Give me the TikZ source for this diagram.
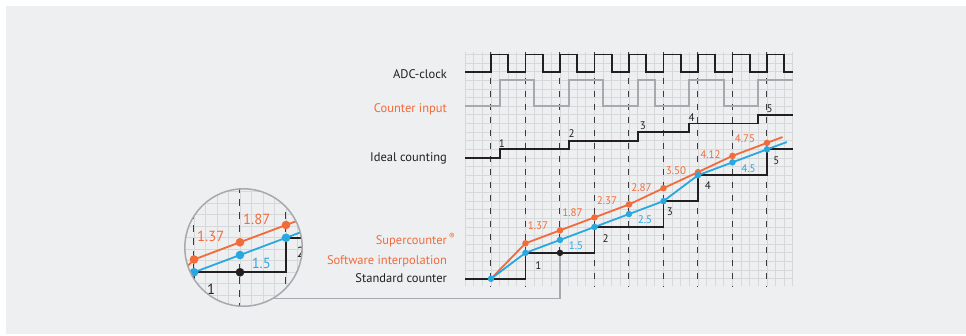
\documentclass[tikz,border=0pt]{standalone}
\usepackage{fontspec}
\setmainfont{PT Sans}
\usetikzlibrary{positioning}

\definecolor{panelcol}{HTML}{EEEFF1}
\definecolor{gridcol}{HTML}{D7D8DA}
\definecolor{supercol}{HTML}{F26B3A}
\definecolor{softcol}{HTML}{29A8E0}
\definecolor{inkcol}{HTML}{231F20}
\definecolor{inputcol}{HTML}{A7A9AC}
\definecolor{tickcol}{HTML}{3A3A3A}

\tikzset{
  grid line/.style = {gridcol, line width=0.8pt},
  tick line/.style = {tickcol, line width=1pt, dash pattern=on 6.5pt off 6.5pt},
  trace/.style = {line width=1.8pt},
  clk line/.style = {trace, inkcol},
  in line/.style = {trace, inputcol},
  ideal line/.style = {trace, inkcol},
  std line/.style = {trace, inkcol},
  super line/.style = {trace, supercol},
  soft line/.style = {trace, softcol},
  dot/.style = {circle, inner sep=0pt, minimum size=6.5pt, fill=#1},
  sig name/.style = {font=\fontsize{12.5}{14}\selectfont, inner sep=0pt, text=#1},
  num/.style = {font=\fontsize{11}{12}\selectfont, inner sep=0pt, text=#1},
  lens/.style = {circle, draw=inputcol, line width=1.5pt, minimum size=117.4pt, inner sep=0pt},
  link/.style = {inputcol, line width=1.6pt},
}

% grid with the three counters, drawn twice (plain and in the lens)
% #1 steps of the standard counter, #2 supercounter values, #3 interpolated values to print
\newcommand{\countplot}[3]{%
  \foreach \i in {0,...,38} \draw[grid line] (\i,-0.3) -- (\i,26.85);
  \foreach \j in {0,...,26} \draw[grid line] (0,\j) -- (38,\j);
  \foreach \k in {0,...,8} \draw[tick line] ({3+4*\k},-0.3) -- ({3+4*\k},26.85);
  % standard counter
  \draw[std line] (0,26) coordinate (sc-start) -- (7,26) -- (7,23) -- (15,23) -- (15,20)
    -- (23,20) -- (23,17) -- (27,17) -- (27,14) -- (35,14) -- (35,11) -- (38,11);
  \foreach \n/\x/\y in {#1}
    \node[num=inkcol] (sc-\n) at (\x,\y) {\n};
  % supercounter
  \draw[super line] (3,26) \foreach \k/\v in {1/1.37,2/1.87,3/2.37,4/2.87,5/3.50,6/4.12,7/4.75,8/5.25}
    { -- ({3+4*\k},{26-3*\v}) } -- (36.8,9.57);
  % software interpolation
  \draw[soft line] (3,26) \foreach \k/\v in {1/1,2/1.5,3/2,4/2.5,5/3,6/4,7/4.5,8/5}
    { -- ({3+4*\k},{26-3*\v}) } -- (37.3,10.15);
  \foreach \k/\v in {1/1.37,2/1.87,3/2.37,4/2.87,5/3.50,6/4.12,7/4.75,8/5.25}
    \node[dot=supercol] (sp-\k) at ({3+4*\k},{26-3*\v}) {};
  \foreach \k/\v in {0/0,1/1,2/1.5,3/2,4/2.5,5/3,6/4,7/4.5,8/5}
    \node[dot=softcol] (si-\k) at ({3+4*\k},{26-3*\v}) {};
  \node[dot=inkcol] (sc-dot) at (11,23) {};
  \foreach \k/\v in {#2}
    \node[num=supercol, anchor=base west] (sp-val-\k) at ({3+4*\k+0.25},{26-3*\v-1.55}) {\v};
  \foreach \k/\v in {#3}
    \node[num=softcol, anchor=base west] (si-val-\k) at ({3+4*\k+1},{26-3*\v+1.15}) {\v};
}

\begin{document}
\begin{tikzpicture}[x=8.625pt, y=-8.625pt, node distance=18pt]
  \useasboundingbox (-53.925,-6.319) rectangle (58.075,32.522);
  \fill[panelcol] (-53.23,-5.623) rectangle (58.075,32.41);

  \countplot{1/8.5/24.5, 2/16.3/21.3, 3/23.75/18.25, 4/28.15/15.15, 5/36.1/12.3}
    {1/1.37,2/1.87,3/2.37,4/2.87,5/3.50,6/4.12,7/4.75}{2/1.5,4/2.5,7/4.5}

  % ADC clock, counter input, ideal counting
  \draw[clk line] (0,2) coordinate (clk-start) \foreach \k in {0,...,8}
    { -- ({3+4*\k},2) -- ({3+4*\k},0) -- ({5+4*\k},0) -- ({5+4*\k},2) } -- (38,2);
  \draw[in line] (0,6) coordinate (in-start) -- (4,6) -- (4,3) -- (8,3) -- (8,6) -- (12,6)
    -- (12,3) -- (16,3) -- (16,6) -- (20,6) -- (20,3) -- (22,3) -- (22,6) -- (26,6)
    -- (26,3) -- (30,3) -- (30,6) -- (34,6) -- (34,3) -- (38,3);
  \draw[ideal line] (0,12) coordinate (ideal-start) -- (4,12) -- (4,11) -- (12,11) -- (12,10)
    -- (20,10) -- (20,9) -- (26,9) -- (26,8) -- (34,8) -- (34,7) -- (38,7);
  \foreach \n/\x/\y in {1/4.27/10.38, 2/12.36/9.22, 3/20.6/8.29, 4/26.27/7.36, 5/35.3/6.32}
    \node[num=inkcol] (ic-\n) at (\x,\y) {\n};

  % names
  \node[sig name=inkcol, left=of clk-start, anchor=base east, yshift=-6.8pt] (clk-name) {ADC-clock};
  \node[sig name=supercol, left=of in-start, anchor=base east, yshift=-6.5pt] (in-name) {Counter input};
  \node[sig name=inkcol, left=of ideal-start, anchor=base east, yshift=-3.5pt] (ideal-name) {Ideal counting};
  \node[sig name=inkcol, left=of sc-start, anchor=base east, yshift=-3.7pt] (sc-name) {Standard counter};
  \node[sig name=supercol, anchor=base east] (si-name) at ([yshift=18.4pt]sc-name.base east) {Software interpolation};
  \node[sig name=supercol, anchor=base east] (sp-name) at ([yshift=20pt]si-name.base east)
    {Supercounter\rlap{\,\textsuperscript{\textregistered}}};

  % lens
  \coordinate (lens-c) at (-25.69,22.38);
  \begin{scope}
    \clip (lens-c) circle[radius=58.7pt];
    \fill[panelcol] (lens-c) circle[radius=58.7pt];
    \begin{scope}[shift={(-26.1,25.25)}, scale=4/3, shift={(-11,-23)}, transform shape, name prefix=z-]
      \countplot{1/8.5/24.5, 2/16.3/21.3}{1/1.37,2/1.87}{2/1.5}
    \end{scope}
  \end{scope}
  \node[lens] (lens) at (lens-c) {};
  \draw[link] (sc-dot) |- (lens.-59);
\end{tikzpicture}
\end{document}
